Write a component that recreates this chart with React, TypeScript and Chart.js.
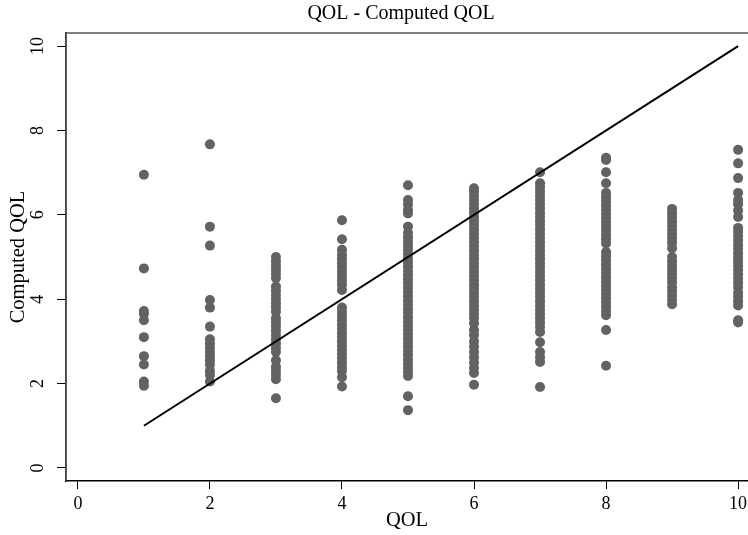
import React, { useEffect, useRef } from "react";
import { Chart, registerables } from "chart.js";

Chart.register(...registerables);

const TITLE = "QOL - Computed QOL";
const X_LABEL = "QOL";
const Y_LABEL = "Computed QOL";
const TICKS = [0, 2, 4, 6, 8, 10];
const QOL_LEVELS = [1, 2, 3, 4, 5, 6, 7, 8, 9, 10];

const computedAt1 = [6.95, 4.73, 3.72, 3.65, 3.5, 3.1, 2.65, 2.45, 2.05, 1.95];
const computedAt2 = [7.67, 5.72, 5.27, 3.98, 3.8, 3.35, 3.05, 2.95, 2.85, 2.75, 2.65, 2.55, 2.45, 2.3, 2.2, 2.05];
const computedAt3 = [5.0, 4.9, 4.8, 4.7, 4.6, 4.5, 4.3, 4.2, 4.1, 4.0, 3.9, 3.8, 3.7, 3.55, 3.45, 3.35, 3.25, 3.15, 3.05, 2.95, 2.85, 2.75, 2.55, 2.4, 2.3, 2.2, 2.1, 1.65];
const computedAt4 = [5.87, 5.42, 5.17, 5.05, 4.95, 4.85, 4.75, 4.65, 4.55, 4.45, 4.35, 4.22, 3.8, 3.7, 3.6, 3.5, 3.4, 3.3, 3.2, 3.1, 3.0, 2.9, 2.8, 2.7, 2.6, 2.5, 2.4, 2.3, 2.15, 1.93];
const computedAt5 = [6.7, 6.35, 6.25, 6.12, 6.03, 5.72, 5.57, 5.47, 5.37, 5.27, 5.17, 5.07, 4.97, 4.87, 4.77, 4.67, 4.57, 4.47, 4.37, 4.27, 4.17, 4.07, 3.97, 3.87, 3.77, 3.67, 3.57, 3.47, 3.37, 3.27, 3.17, 3.07, 2.97, 2.87, 2.77, 2.67, 2.57, 2.47, 2.37, 2.27, 2.18, 1.7, 1.37];
const computedAt6 = [6.63, 6.55, 6.45, 6.35, 6.25, 6.15, 6.05, 5.95, 5.85, 5.75, 5.65, 5.55, 5.45, 5.35, 5.25, 5.15, 5.05, 4.95, 4.85, 4.75, 4.65, 4.55, 4.45, 4.35, 4.25, 4.15, 4.05, 3.95, 3.85, 3.75, 3.65, 3.55, 3.43, 3.27, 3.15, 3.0, 2.87, 2.75, 2.62, 2.5, 2.37, 2.25, 1.97];
const computedAt7 = [7.01, 6.75, 6.65, 6.55, 6.45, 6.35, 6.25, 6.15, 6.05, 5.95, 5.85, 5.75, 5.65, 5.55, 5.45, 5.35, 5.25, 5.15, 5.05, 4.95, 4.85, 4.75, 4.65, 4.55, 4.45, 4.35, 4.25, 4.15, 4.05, 3.95, 3.85, 3.75, 3.65, 3.55, 3.45, 3.34, 3.22, 2.98, 2.75, 2.62, 2.51, 1.92];
const computedAt8 = [7.35, 7.3, 7.01, 6.75, 6.52, 6.42, 6.32, 6.22, 6.12, 6.02, 5.92, 5.82, 5.72, 5.62, 5.52, 5.42, 5.32, 5.12, 5.02, 4.92, 4.82, 4.72, 4.62, 4.52, 4.42, 4.32, 4.22, 4.12, 4.02, 3.92, 3.82, 3.72, 3.62, 3.27, 2.42];
const computedAt9 = [6.14, 6.04, 5.94, 5.84, 5.74, 5.64, 5.54, 5.44, 5.34, 5.21, 5.0, 4.9, 4.8, 4.7, 4.6, 4.5, 4.4, 4.28, 4.18, 4.08, 3.98, 3.88];
const computedAt10 = [7.54, 7.22, 6.87, 6.52, 6.35, 6.25, 6.1, 5.95, 5.69, 5.59, 5.49, 5.39, 5.29, 5.19, 5.09, 4.99, 4.89, 4.79, 4.69, 4.59, 4.49, 4.39, 4.29, 4.15, 4.05, 3.95, 3.85, 3.5, 3.45];

const computedByLevel = [computedAt1, computedAt2, computedAt3, computedAt4, computedAt5, computedAt6, computedAt7, computedAt8, computedAt9, computedAt10];

const lineX = [1, 10];
const lineY = [1, 10];

const FONT = "'Liberation Serif', 'Times New Roman', serif";

const framePlugin = {
  id: "frame",
  beforeDatasetsDraw(chart: any) {
    const { ctx, chartArea } = chart;
    ctx.save();
    ctx.strokeStyle = "#555555";
    ctx.lineWidth = 1.5;
    ctx.beginPath();
    ctx.moveTo(chartArea.left, chartArea.bottom);
    ctx.lineTo(chartArea.left, chartArea.top);
    ctx.lineTo(chartArea.right, chartArea.top);
    ctx.stroke();
    ctx.restore();
  },
  afterDraw(chart: any) {
    const { ctx } = chart;
    ctx.save();
    ctx.fillStyle = "#000";
    ctx.font = `normal 20px ${FONT}`;
    ctx.textAlign = "center";
    ctx.textBaseline = "middle";
    ctx.fillText(TITLE, 401, 14);
    ctx.restore();
  },
};

export default function App() {
  const ref = useRef<HTMLCanvasElement | null>(null);

  useEffect(() => {
    if (!ref.current) return;
    const points: { x: number; y: number }[] = [];
    QOL_LEVELS.forEach((lvl, i) => {
      computedByLevel[i].forEach((v) => points.push({ x: lvl, y: v }));
    });
    const linePts = lineX.map((x, i) => ({ x, y: lineY[i] }));

    const chart = new Chart(ref.current, {
      type: "scatter",
      data: {
        datasets: [
          {
            type: "line",
            data: linePts,
            borderColor: "#000000",
            borderWidth: 2,
            pointRadius: 0,
            fill: false,
          } as any,
          {
            data: points,
            backgroundColor: "#626262",
            borderColor: "#626262",
            borderWidth: 0,
            pointRadius: 5,
          },
        ],
      },
      options: {
        animation: false,
        responsive: true,
        maintainAspectRatio: false,
        layout: { autoPadding: false, padding: { left: 0, top: 33, bottom: 0, right: 0 } },
        plugins: {
          legend: { display: false },
          tooltip: { enabled: false },
          title: { display: false },
        },
        scales: {
          x: {
            type: "linear",
            min: -0.18,
            max: 10.15,
            afterFit: (s: any) => {
              s.height = 54;
              s.paddingRight = 0;
              s.paddingLeft = 0;
            },
            afterBuildTicks: (s: any) => {
              s.ticks = TICKS.map((v) => ({ value: v }));
            },
            grid: { drawOnChartArea: false, drawTicks: true, tickLength: 8, color: "#000", lineWidth: 1 },
            border: { display: true, color: "#000", width: 1.5 },
            ticks: {
              color: "#000",
              font: { family: FONT, size: 18 },
              padding: 4,
              maxRotation: 0,
              minRotation: 0,
            },
            title: {
              display: true,
              text: X_LABEL,
              color: "#000",
              font: { family: FONT, size: 20.5 },
              padding: { top: 0, bottom: 2 },
            },
          },
          y: {
            type: "linear",
            min: -0.31,
            max: 10.31,
            afterFit: (s: any) => {
              s.width = 66;
              s.paddingTop = 0;
              s.paddingBottom = 0;
            },
            afterBuildTicks: (s: any) => {
              s.ticks = TICKS.map((v) => ({ value: v }));
            },
            grid: { drawOnChartArea: false, drawTicks: true, tickLength: 9, color: "#000", lineWidth: 1 },
            border: { display: true, color: "#000", width: 1.5 },
            ticks: {
              color: "#000",
              font: { family: FONT, size: 18 },
              padding: 10,
              minRotation: 90,
              maxRotation: 90,
              crossAlign: "center",
            },
            title: {
              display: true,
              text: Y_LABEL,
              color: "#000",
              font: { family: FONT, size: 20.5 },
              padding: { top: 6, bottom: 6 },
            },
          },
        },
      },
      plugins: [framePlugin],
    });
    return () => chart.destroy();
  }, []);

  return (
    <div style={{ position: "fixed", left: 0, top: 0, width: 748, height: 535, background: "#fff" }}>
      <canvas ref={ref} />
    </div>
  );
}
